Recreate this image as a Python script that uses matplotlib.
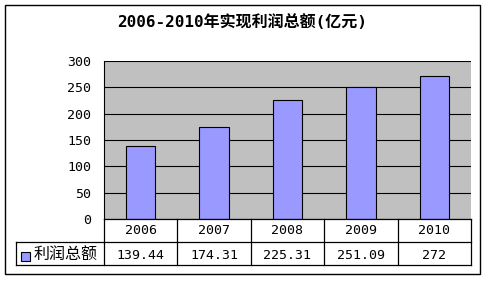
import matplotlib
matplotlib.use("Agg")
import matplotlib.pyplot as plt
from matplotlib.patches import Rectangle
from matplotlib.lines import Line2D

FAM = ['DejaVu Sans Mono', 'Noto Sans CJK SC']
plt.rcParams['font.family'] = FAM

categories = ['2006', '2007', '2008', '2009', '2010']
values = [139.44, 174.31, 225.31, 251.09, 272]
value_labels = ['139.44', '174.31', '225.31', '251.09', '272']
series_name = '利润总额'
title = '2006-2010年实现利润总额(亿元)'
yticks = [0, 50, 100, 150, 200, 250, 300]

W, H = 488, 282
fig = plt.figure(figsize=(W / 100, H / 100), dpi=100)

def fx(x):
    return x / W

def fy(y):
    return 1 - y / H

# plot area in pixel coords
pl, pr, pt, pb = 104, 471, 61, 219
ax = fig.add_axes([fx(pl), fy(pb), fx(pr - pl), (pb - pt) / H])
ax.set_facecolor('#c0c0c0')
x = list(range(len(categories)))
ax.bar(x, values, width=0.4, color='#9999ff', edgecolor='black', linewidth=0.8, zorder=3)
ax.set_xlim(-0.5, len(categories) - 0.5)
ax.set_ylim(0, 300)
ax.set_yticks(yticks)
ax.set_yticklabels([str(t) for t in yticks], fontsize=9.5)
ax.yaxis.grid(True, color='black', linewidth=0.8, zorder=1)
ax.set_axisbelow(True)
ax.set_xticks([])
ax.tick_params(axis='y', length=0, pad=9)
for s in ['top', 'right', 'bottom']:
    ax.spines[s].set_visible(False)
ax.spines['left'].set_color('black')
ax.spines['left'].set_linewidth(0.8)

# overlay for table and frame
ov = fig.add_axes([0, 0, 1, 1])
ov.set_xlim(0, W)
ov.set_ylim(H, 0)
ov.axis('off')
ov.patch.set_alpha(0)

# outer frame
ov.add_patch(Rectangle((5, 5), 475, 269, fill=False, edgecolor='black', linewidth=1))

ov.text(242, 22, title, ha='center', va='center', fontsize=11.5, fontweight='bold')

# table
r0, r1, r2 = 219, 242, 265
tl = 16
lw = 0.9
ov.add_line(Line2D([pl, pr], [r0, r0], color='black', lw=lw))
ov.add_line(Line2D([tl, pr], [r1, r1], color='black', lw=lw))
ov.add_line(Line2D([tl, pr], [r2, r2], color='black', lw=lw))
ov.add_line(Line2D([tl, tl], [r1, r2], color='black', lw=lw))
cw = (pr - pl) / len(categories)
for i in range(len(categories) + 1):
    xx = pl + i * cw
    ov.add_line(Line2D([xx, xx], [r0, r2], color='black', lw=lw))
for i, (c, v) in enumerate(zip(categories, value_labels)):
    cx = pl + (i + 0.5) * cw
    ov.text(cx, 231, c, ha='center', va='center', fontsize=9.5)
    ov.text(cx, 255.5, v, ha='center', va='center', fontsize=9.5)

# legend key
ov.add_patch(Rectangle((21, 252), 9, 9, facecolor='#9999ff', edgecolor='black', linewidth=0.8))
ov.text(34, 255.5, series_name, ha='left', va='center', fontsize=11.5,
        family=['Noto Sans CJK SC', 'DejaVu Sans'])

fig.savefig('out.png', dpi=100)
